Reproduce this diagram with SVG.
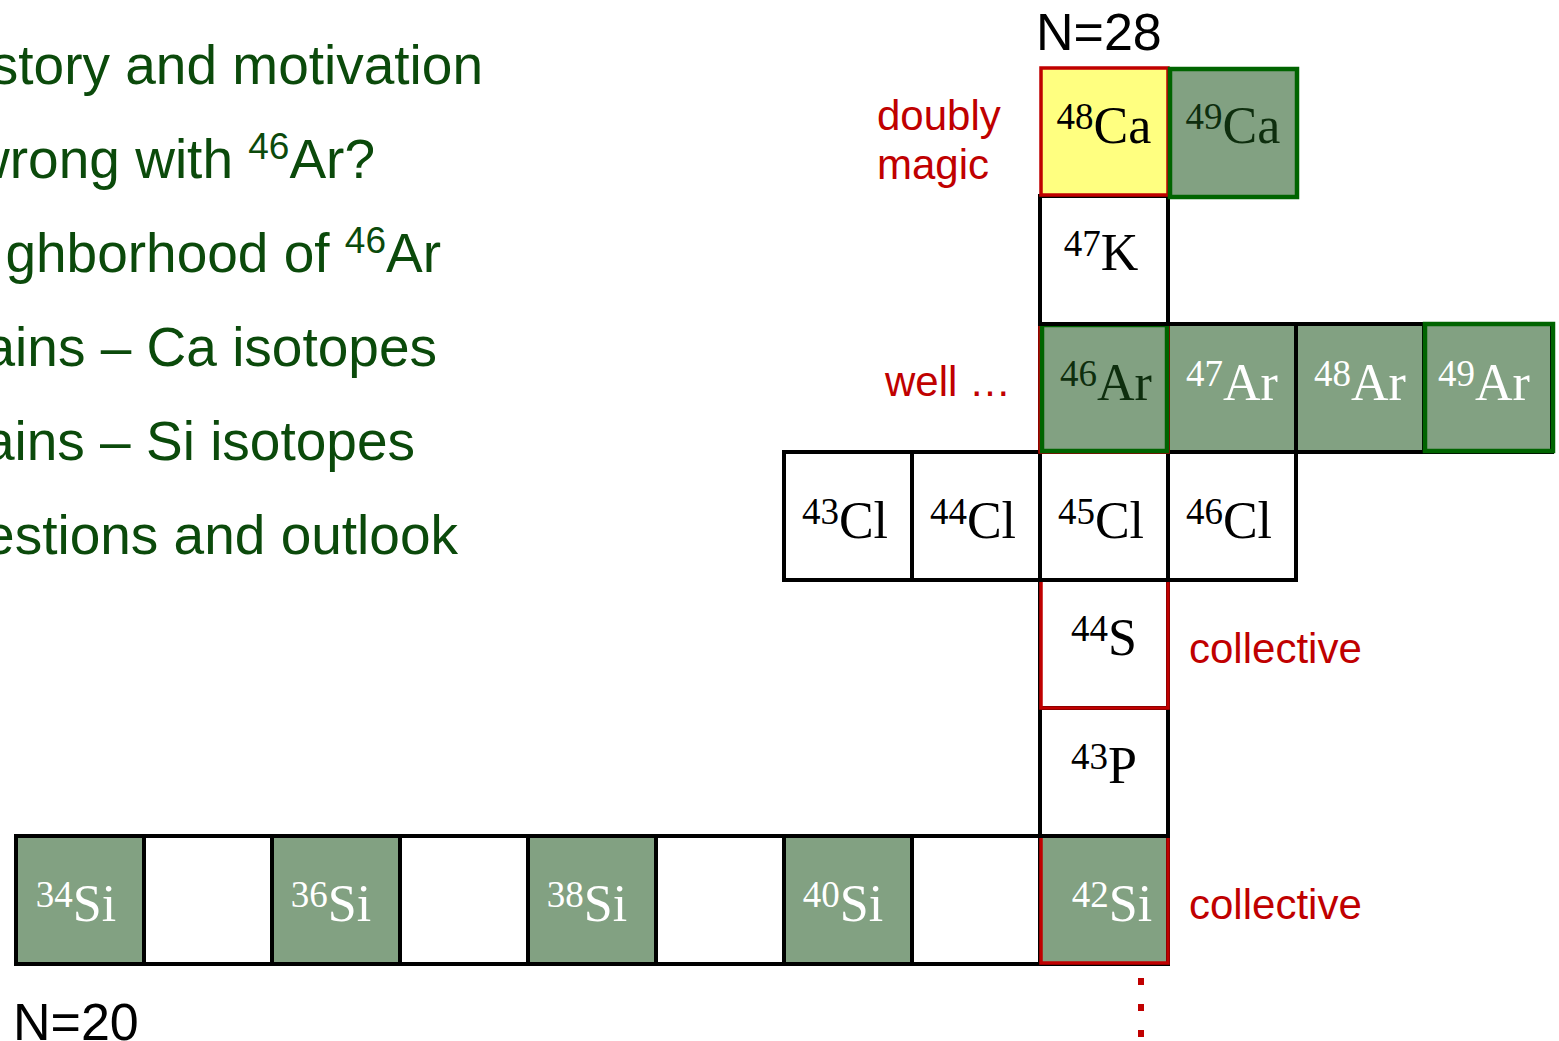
<svg xmlns="http://www.w3.org/2000/svg" width="1559" height="1041" viewBox="0 0 1559 1041">
<style>
.cell{stroke:#000;stroke-width:4}
.w{fill:#fff}
.g{fill:#82a182}
.y{fill:#ffff80}
.red{fill:none;stroke:#c00000;stroke-width:3.5}
.grn{fill:none;stroke:#006400;stroke-width:4.5}
.iso{font-family:"Liberation Serif","Times New Roman",serif;font-size:52px;text-anchor:middle}
.sup{font-size:37px}
.tw{fill:#fff}
.tb{fill:#000}
.td{fill:#0e2e0e}
.menu{font-family:"Liberation Sans",Arial,sans-serif;font-size:55px;fill:#0b4a0b;text-anchor:end}
.msup{font-size:37px}
.lab{font-family:"Liberation Sans",Arial,sans-serif;font-size:42px;fill:#c00000}
.nlab{font-family:"Liberation Sans",Arial,sans-serif;font-size:52px;fill:#000}
</style>
<g id="outline">
<text class="menu" x="483" y="84">story and motivation</text>
<text class="menu" x="375" y="178">wrong with <tspan class="msup" dy="-19">46</tspan><tspan dy="19">Ar?</tspan></text>
<text class="menu" x="441" y="272">ghborhood of <tspan class="msup" dy="-19">46</tspan><tspan dy="19">Ar</tspan></text>
<text class="menu" x="437" y="366">ains – Ca isotopes</text>
<text class="menu" x="415" y="460">ains – Si isotopes</text>
<text class="menu" x="458" y="554">estions and outlook</text>
</g>
<g id="labels">
<text class="nlab" x="1036" y="50">N=28</text>
<text class="nlab" x="13" y="1040">N=20</text>
<text class="lab" x="877" y="130">doubly</text>
<text class="lab" x="877" y="179">magic</text>
<text class="lab" x="885" y="396">well …</text>
<text class="lab" x="1189" y="663">collective</text>
<text class="lab" x="1189" y="919">collective</text>
</g>
<g id="Si-row">
<g id="Si34"><rect class="cell g" x="16" y="836" width="128" height="128"/><text class="iso tw" x="76" y="921"><tspan class="sup" dy="-14">34</tspan><tspan dy="14">Si</tspan></text></g>
<g id="Si35"><rect class="cell w" x="144" y="836" width="128" height="128"/></g>
<g id="Si36"><rect class="cell g" x="272" y="836" width="128" height="128"/><text class="iso tw" x="331" y="921"><tspan class="sup" dy="-14">36</tspan><tspan dy="14">Si</tspan></text></g>
<g id="Si37"><rect class="cell w" x="400" y="836" width="128" height="128"/></g>
<g id="Si38"><rect class="cell g" x="528" y="836" width="128" height="128"/><text class="iso tw" x="587" y="921"><tspan class="sup" dy="-14">38</tspan><tspan dy="14">Si</tspan></text></g>
<g id="Si39"><rect class="cell w" x="656" y="836" width="128" height="128"/></g>
<g id="Si40"><rect class="cell g" x="784" y="836" width="128" height="128"/><text class="iso tw" x="843" y="921"><tspan class="sup" dy="-14">40</tspan><tspan dy="14">Si</tspan></text></g>
<g id="Si41"><rect class="cell w" x="912" y="836" width="128" height="128"/></g>
<g id="Si42"><rect class="cell g" x="1040" y="836" width="128" height="128"/><rect class="red" x="1041" y="836" width="127" height="127"/><text class="iso tw" x="1112" y="921"><tspan class="sup" dy="-14">42</tspan><tspan dy="14">Si</tspan></text></g>
</g>
<g id="P43"><rect class="cell w" x="1040" y="708" width="128" height="128"/><text class="iso tb" x="1104" y="783"><tspan class="sup" dy="-14">43</tspan><tspan dy="14">P</tspan></text></g>
<g id="S44"><rect class="cell w" x="1040" y="580" width="128" height="128"/><rect class="red" x="1041" y="580" width="127" height="128"/><text class="iso tb" x="1104" y="655"><tspan class="sup" dy="-14">44</tspan><tspan dy="14">S</tspan></text></g>
<g id="Cl-row">
<g id="Cl43"><rect class="cell w" x="784" y="452" width="128" height="128"/><text class="iso tb" x="845" y="538"><tspan class="sup" dy="-14">43</tspan><tspan dy="14">Cl</tspan></text></g>
<g id="Cl44"><rect class="cell w" x="912" y="452" width="128" height="128"/><text class="iso tb" x="973" y="538"><tspan class="sup" dy="-14">44</tspan><tspan dy="14">Cl</tspan></text></g>
<g id="Cl45"><rect class="cell w" x="1040" y="452" width="128" height="128"/><text class="iso tb" x="1101" y="538"><tspan class="sup" dy="-14">45</tspan><tspan dy="14">Cl</tspan></text></g>
<g id="Cl46"><rect class="cell w" x="1168" y="452" width="128" height="128"/><text class="iso tb" x="1229" y="538"><tspan class="sup" dy="-14">46</tspan><tspan dy="14">Cl</tspan></text></g>
</g>
<g id="Ar-row">
<g id="Ar47"><rect class="cell g" x="1168" y="324" width="128" height="128"/><text class="iso tw" x="1232" y="400"><tspan class="sup" dy="-14">47</tspan><tspan dy="14">Ar</tspan></text></g>
<g id="Ar48"><rect class="cell g" x="1296" y="324" width="128" height="128"/><text class="iso tw" x="1360" y="400"><tspan class="sup" dy="-14">48</tspan><tspan dy="14">Ar</tspan></text></g>
<g id="Ar49"><rect class="cell g" x="1424" y="324" width="128" height="128"/><rect class="grn" x="1425" y="324" width="128" height="127"/><text class="iso tw" x="1484" y="400"><tspan class="sup" dy="-14">49</tspan><tspan dy="14">Ar</tspan></text></g>
<g id="Ar46"><rect class="cell g" x="1040" y="324" width="128" height="128"/><rect class="red" x="1040" y="323" width="128" height="129"/><rect class="grn" x="1042" y="325" width="125" height="126"/><text class="iso td" x="1106" y="400"><tspan class="sup" dy="-14">46</tspan><tspan dy="14">Ar</tspan></text></g>
</g>
<g id="K47"><rect class="cell w" x="1040" y="196" width="128" height="128"/><text class="iso tb" x="1101" y="270"><tspan class="sup" dy="-14">47</tspan><tspan dy="14">K</tspan></text></g>
<g id="Ca-row">
<g id="Ca48"><rect class="y" x="1040" y="68" width="128" height="128"/><rect class="red" x="1041" y="68" width="127" height="127"/><text class="iso tb" x="1104" y="143"><tspan class="sup" dy="-14">48</tspan><tspan dy="14">Ca</tspan></text></g>
<g id="Ca49"><rect class="g" x="1168" y="68" width="130" height="130"/><rect class="grn" x="1170" y="69" width="127" height="128"/><text class="iso td" x="1233" y="143"><tspan class="sup" dy="-14">49</tspan><tspan dy="14">Ca</tspan></text></g>
</g>
<g id="connectors">
<line x1="1141" y1="978" x2="1141" y2="1041" stroke="#c00000" stroke-width="6" stroke-dasharray="7 19"/>
</g>
</svg>
